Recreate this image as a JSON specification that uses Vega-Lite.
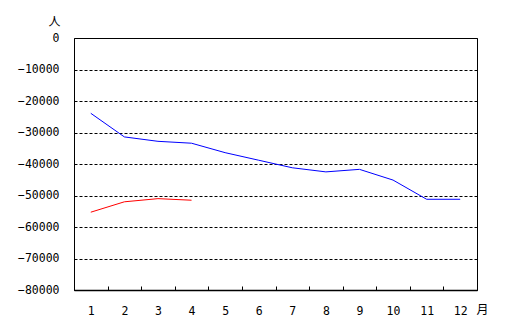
{
  "$schema": "https://vega.github.io/schema/vega-lite/v6.json",
  "autosize": "none",
  "width": 403,
  "height": 252,
  "padding": {"left": 74, "top": 38, "right": 28, "bottom": 32},
  "background": "white",
  "config": {
    "view": {"stroke": "black", "strokeWidth": 1},
    "font": "Noto Sans CJK JP"
  },
  "data": {
    "values": [
      {"month": 1, "series": "blue", "value": -23900},
      {"month": 2, "series": "blue", "value": -31400},
      {"month": 3, "series": "blue", "value": -32800},
      {"month": 4, "series": "blue", "value": -33400},
      {"month": 5, "series": "blue", "value": -36400},
      {"month": 6, "series": "blue", "value": -38800},
      {"month": 7, "series": "blue", "value": -41200},
      {"month": 8, "series": "blue", "value": -42500},
      {"month": 9, "series": "blue", "value": -41700},
      {"month": 10, "series": "blue", "value": -45100},
      {"month": 11, "series": "blue", "value": -51200},
      {"month": 12, "series": "blue", "value": -51200},
      {"month": 1, "series": "red", "value": -55300},
      {"month": 2, "series": "red", "value": -52000},
      {"month": 3, "series": "red", "value": -51000},
      {"month": 4, "series": "red", "value": -51500}
    ]
  },
  "mark": {"type": "line", "strokeWidth": 1, "interpolate": "linear"},
  "encoding": {
    "x": {
      "field": "month",
      "type": "ordinal",
      "scale": {"domain": [1,2,3,4,5,6,7,8,9,10,11,12], "paddingInner": 0, "paddingOuter": 0},
      "axis": {
        "title": "月",
        "titleFont": "Noto Sans CJK JP",
        "titleAngle": 0,
        "titleX": 408,
        "titleY": 19,
        "titleAlign": "center",
        "titleBaseline": "middle",
        "titleFontWeight": "normal",
        "titleFontSize": 12,
        "titleColor": "black",
        "labelAngle": 0,
        "labelFont": "DejaVu Sans Mono",
        "labelFontSize": 11.5,
        "labelColor": "black",
        "labelPadding": 25,
        "labelBaseline": "middle",
        "domainColor": "black",
        "domainWidth": 1.5,
        "tickBand": "extent",
        "tickColor": "black",
        "tickSize": -4,
        "grid": false
      }
    },
    "y": {
      "field": "value",
      "type": "quantitative",
      "scale": {"domain": [-80000, 0], "nice": false},
      "axis": {
        "title": "人",
        "titleFont": "Noto Sans CJK JP",
        "titleAngle": 0,
        "titleX": -20,
        "titleY": -17,
        "titleAlign": "center",
        "titleBaseline": "middle",
        "titleFontWeight": "normal",
        "titleFontSize": 12,
        "titleColor": "black",
        "values": [0,-10000,-20000,-30000,-40000,-50000,-60000,-70000,-80000],
        "format": "d",
        "labelFont": "DejaVu Sans Mono",
        "labelFontSize": 11.5,
        "labelColor": "black",
        "labelPadding": 15,
        "ticks": false,
        "domain": false,
        "grid": true,
        "gridColor": "black",
        "gridDash": [3, 2],
        "gridOpacity": 1,
        "gridWidth": 1
      }
    },
    "color": {
      "field": "series",
      "type": "nominal",
      "scale": {"domain": ["blue", "red"], "range": ["#0000FF", "#FF0000"]},
      "legend": null
    }
  }
}
